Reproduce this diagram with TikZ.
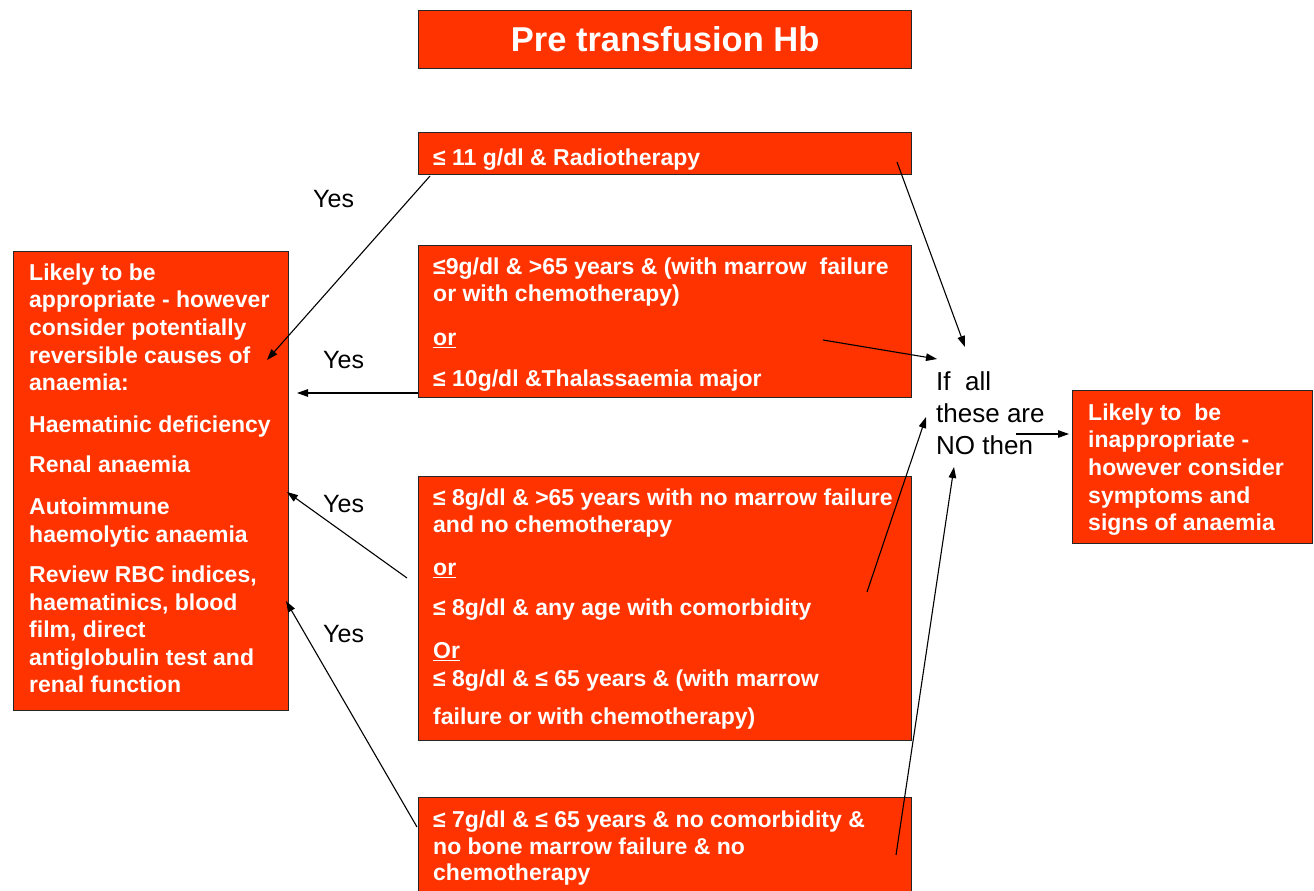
\documentclass[tikz,border=0pt]{standalone}
\usepackage{fontspec}
\setmainfont{Liberation Sans}
\usetikzlibrary{arrows.meta}
\definecolor{hbred}{HTML}{FF3300}
\definecolor{hbline}{HTML}{262626}
\begin{document}
\begin{tikzpicture}[x=1pt,y=-1pt,
  box/.style={draw=hbline, line width=1.3pt, fill=hbred, inner sep=0pt, anchor=north west},
  boxtxt/.style={text=white, font=\fontsize{23}{27.6}\selectfont\bfseries, align=left, anchor=north west, inner sep=0pt},
  yeslbl/.style={font=\fontsize{25}{30}\selectfont, anchor=base west, inner sep=0pt},
  conn/.style={line width=1.1pt, -{Triangle[length=11pt,width=7.5pt]}}]
\clip (0,0) rectangle (1314,891);
\fill[white] (0,0) rectangle (1314,891);
% boxes
\node[box, minimum width=493pt, minimum height=58pt, text=white, font=\fontsize{34.5}{40}\selectfont\bfseries] (title) at (418,10) {Pre transfusion Hb};
\node[box, minimum width=493pt, minimum height=42pt] (b1) at (418,132) {};
\node[box, minimum width=493pt, minimum height=152pt] (b2) at (418,245) {};
\node[box, minimum width=493pt, minimum height=264pt] (b3) at (418,476) {};
\node[box, minimum width=493pt, minimum height=120pt] (b4) at (418,797) {};
\node[box, minimum width=275pt, minimum height=459pt] (left) at (13,251) {};
\node[box, minimum width=240pt, minimum height=153pt] (right) at (1072,390) {};
% texts
\node[boxtxt] (t1) at (433,148) {\rule{0pt}{17pt}≤ 11 g/dl \& Radiotherapy};
\node[boxtxt] (t2) at (433,257) {\rule{0pt}{17pt}≤9g/dl \& >65 years \& (with marrow~~failure\\
or with chemotherapy)\\[16pt]
\underline{or}\\[13pt]
≤ 10g/dl \&Thalassaemia major};
\node[boxtxt] (t3) at (433,488) {\rule{0pt}{17pt}≤ 8g/dl \& >65 years with no marrow failure\\
and no chemotherapy\\[15.4pt]
\underline{or}\\[12.4pt]
≤ 8g/dl \& any age with comorbidity\\[15.4pt]
\underline{Or}\\
≤ 8g/dl \& ≤ 65 years \& (with marrow\\[10.4pt]
failure or with chemotherapy)};
\node[boxtxt, font=\fontsize{23}{26.8}\selectfont\bfseries] (t4) at (433,810) {\rule{0pt}{17pt}≤ 7g/dl \& ≤ 65 years \& no comorbidity \&\\
no bone marrow failure \& no\\
chemotherapy};
\node[boxtxt] (tl) at (29,263) {\rule{0pt}{17pt}Likely to be\\
appropriate - however\\
consider potentially\\
reversible causes of\\
anaemia:\\[14pt]
Haematinic deficiency\\[12.4pt]
Renal anaemia\\[15pt]
Autoimmune\\
haemolytic anaemia\\[12.4pt]
Review RBC indices,\\
haematinics, blood\\
film, direct\\
antiglobulin test and\\
renal function};
\node[boxtxt] (tr) at (1088,403) {\rule{0pt}{17pt}Likely to~~be\\
inappropriate -\\
however consider\\
symptoms and\\
signs of anaemia};
\node[align=left, anchor=north west, inner sep=0pt, font=\fontsize{26}{32}\selectfont] (ifall) at (936,371) {\rule{0pt}{19pt}If~~all\\these are\\NO then};
% yes labels
\node[yeslbl] (y1) at (313,207) {Yes};
\node[yeslbl] (y2) at (323,368) {Yes};
\node[yeslbl] (y3) at (323,512) {Yes};
\node[yeslbl] (y4) at (323,642) {Yes};
% connector end points
\coordinate (a1s) at (430,176);
\coordinate (a1e) at (267,360);
\coordinate (a2s) at (418,393);
\coordinate (a2e) at (297,393);
\coordinate (a3s) at (407,578);
\coordinate (a3e) at (287,492);
\coordinate (a4s) at (417,827);
\coordinate (a4e) at (286,601);
\coordinate (a5s) at (897,162);
\coordinate (a5e) at (965,347);
\coordinate (a6s) at (823,340);
\coordinate (a6e) at (937,359);
\coordinate (a7s) at (867,592);
\coordinate (a7e) at (926,417);
\coordinate (a8s) at (896,855);
\coordinate (a8e) at (954,467);
\coordinate (a9s) at (1016,434);
\coordinate (a9e) at (1069,434);
\draw[conn] (a1s) -- (a1e);
\draw[conn] (a2s) -- (a2e);
\draw[conn] (a3s) -- (a3e);
\draw[conn] (a4s) -- (a4e);
\draw[conn] (a5s) -- (a5e);
\draw[conn] (a6s) -- (a6e);
\draw[conn] (a7s) -- (a7e);
\draw[conn] (a8s) -- (a8e);
\draw[conn] (a9s) -- (a9e);
\end{tikzpicture}
\end{document}
